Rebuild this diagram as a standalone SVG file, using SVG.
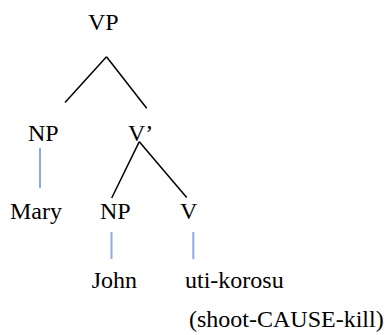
<svg xmlns="http://www.w3.org/2000/svg" width="392" height="335" viewBox="0 0 392 335">
<style>
text{font-family:'Liberation Serif','Times New Roman',Times,'DejaVu Serif',serif;font-size:24px;fill:#000}
.b{stroke:#000;stroke-width:1.5;fill:none}
.u{stroke:#8faadc;stroke-width:2;fill:none}
</style>
<rect width="392" height="335" fill="#fff"/>
<g id="connectors">
<line class="b" x1="106.5" y1="56.7" x2="65" y2="102.5"/>
<line class="b" x1="106.5" y1="56.7" x2="146.7" y2="108.3"/>
<line class="b" x1="139.3" y1="141.7" x2="111.7" y2="198"/>
<line class="b" x1="139.3" y1="141.7" x2="186.7" y2="197.5"/>
<line class="u" x1="40" y1="148" x2="40" y2="188"/>
<line class="u" x1="111.5" y1="232" x2="111.5" y2="259"/>
<line class="u" x1="193.3" y1="232" x2="193.3" y2="259"/>
</g>
<g id="vp"><text x="88" y="30" font-family="Liberation Serif, serif">VP</text></g>
<g id="np1"><text x="28" y="141">NP</text></g>
<g id="vbar"><text x="128" y="141">V’</text></g>
<g id="mary"><text x="10" y="219">Mary</text></g>
<g id="np2"><text x="100" y="219">NP</text></g>
<g id="v"><text x="180" y="219">V</text></g>
<g id="john"><text x="91.7" y="288">John</text></g>
<g id="utikorosu"><text x="185" y="288">uti-korosu</text></g>
<g id="gloss"><text x="189" y="327">(shoot-CAUSE-kill)</text></g>
</svg>
